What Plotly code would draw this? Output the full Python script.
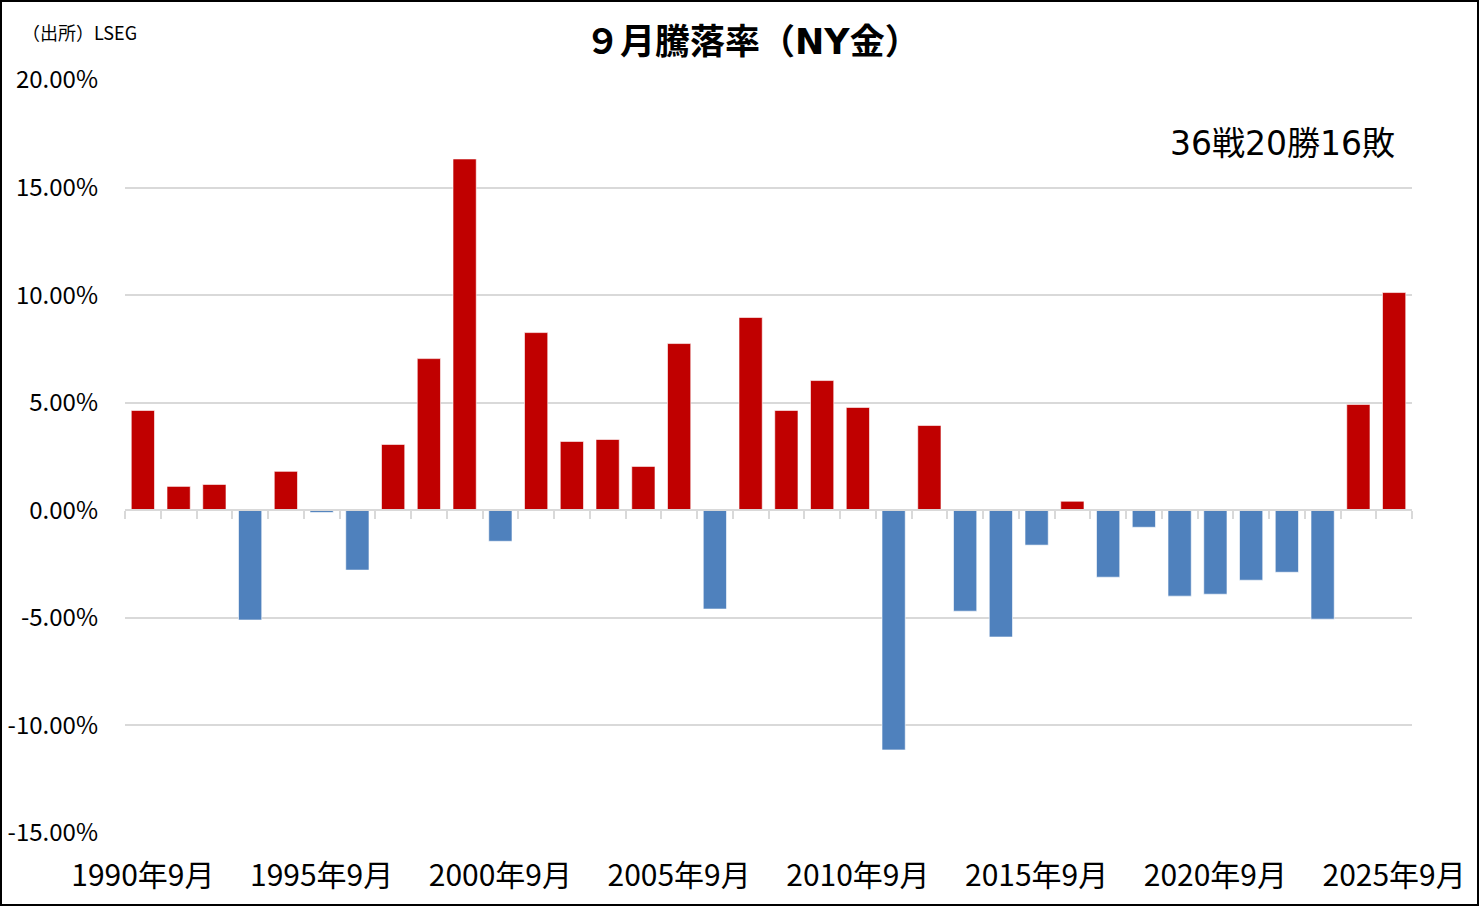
import plotly.graph_objects as go

# ------------------------------
# データ（9月の騰落率, %）
# ------------------------------
years = list(range(1990, 2026))
labels = [f"{y}年9月" for y in years]
returns = [
    4.64, 1.11, 1.20, -5.10, 1.81, -0.10, -2.78, 3.06, 7.05, 16.33,
    -1.44, 8.26, 3.20, 3.29, 2.04, 7.75, -4.59, 8.96, 4.64, 6.03,
    4.78, -11.14, 3.94, -4.69, -5.89, -1.62, 0.42, -3.11, -0.79, -3.99,
    -3.90, -3.25, -2.88, -5.06, 4.92, 10.12,
]
tick_labels = [f"{y}年9月" for y in range(1990, 2026, 5)]
y_ticks = [-15, -10, -5, 0, 5, 10, 15, 20]
y_tick_text = [f"{v:.2f}%" for v in y_ticks]

title_text = "９月騰落率（NY金）"
source_text = "（出所）LSEG"
record_text = "36戦20勝16敗"

RED = "#C00000"
BLUE = "#4F81BD"
GRID = "#D9D9D9"
FONT = "Noto Sans CJK JP"
WIDE = "DejaVu Sans, Noto Sans CJK JP"

W, H = 1480, 907
ML, MR, MT, MB = 125, 68, 80, 74
y_lo, y_hi = -15, 20

colors = [RED if v >= 0 else BLUE for v in returns]

fig = go.Figure()
fig.add_trace(go.Bar(
    x=labels,
    y=returns,
    marker=dict(color=colors, line=dict(color="rgba(255,255,255,0.6)", width=1)),
    hoverinfo="skip",
    showlegend=False,
))
# ゼロ線上の目盛り用（非表示トレース）
fig.add_trace(go.Scatter(
    x=labels, y=[0] * len(labels), xaxis="x2", mode="none",
    hoverinfo="skip", showlegend=False,
))

zero_pos = (0 - y_lo) / (y_hi - y_lo)

fig.update_layout(
    width=W,
    height=H,
    margin=dict(l=ML, r=MR, t=MT, b=MB, autoexpand=False),
    paper_bgcolor="white",
    plot_bgcolor="white",
    bargap=0.35,
    font=dict(family=FONT, color="black"),
    xaxis=dict(
        type="category",
        tickmode="array",
        tickvals=tick_labels,
        ticktext=tick_labels,
        tickangle=0,
        tickfont=dict(size=30, family=FONT),
        ticks="",
        ticklabelstandoff=22,
        showgrid=False,
        showline=False,
        zeroline=False,
        automargin=False,
        range=[-0.5, len(labels) - 0.5],
    ),
    xaxis2=dict(
        type="category",
        overlaying="x",
        matches="x",
        anchor="free",
        position=zero_pos,
        side="bottom",
        showticklabels=False,
        ticks="outside",
        tickson="boundaries",
        ticklen=8,
        tickwidth=2,
        tickcolor=GRID,
        showline=True,
        linecolor=GRID,
        linewidth=2,
        showgrid=False,
        zeroline=False,
        automargin=False,
    ),
    yaxis=dict(
        range=[y_lo, y_hi],
        tickmode="array",
        tickvals=y_ticks,
        ticktext=y_tick_text,
        tickfont=dict(size=24, family=FONT),
        ticklabelstandoff=26,
        showgrid=True,
        gridcolor=GRID,
        gridwidth=1.5,
        zeroline=True,
        zerolinecolor=GRID,
        zerolinewidth=2,
        showline=False,
        automargin=False,
    ),
)

# タイトル・出所・勝敗
fig.add_annotation(
    text=f"<b>{title_text}</b>", xref="paper", yref="paper",
    x=(752 - ML) / (W - ML - MR), y=1 + (MT - 42) / (H - MT - MB),
    showarrow=False, font=dict(size=35, family=WIDE),
    xanchor="center", yanchor="middle",
)
fig.add_annotation(
    text=source_text, xref="paper", yref="paper",
    x=(20 - ML) / (W - ML - MR), y=1 + (MT - 32) / (H - MT - MB),
    showarrow=False, font=dict(size=18, family=FONT),
    xanchor="left", yanchor="middle",
)
fig.add_annotation(
    text=record_text, xref="paper", yref="paper",
    x=(1282 - ML) / (W - ML - MR), y=1 - (143 - MT) / (H - MT - MB),
    showarrow=False, font=dict(size=33, family=WIDE),
    xanchor="center", yanchor="middle",
)

# 外枠
pw, ph = W - ML - MR, H - MT - MB
fig.add_shape(
    type="rect", xref="paper", yref="paper",
    x0=(1 - ML) / pw, x1=1 + (MR - 2) / pw,
    y0=-(MB - 2) / ph, y1=1 + (MT - 1) / ph,
    line=dict(color="black", width=2), fillcolor="rgba(0,0,0,0)",
    layer="above",
)

# ページ余白を消す
fig.write_html(
    "out.html",
    config={"displayModeBar": False},
    post_script="document.body.style.margin='0';",
)
